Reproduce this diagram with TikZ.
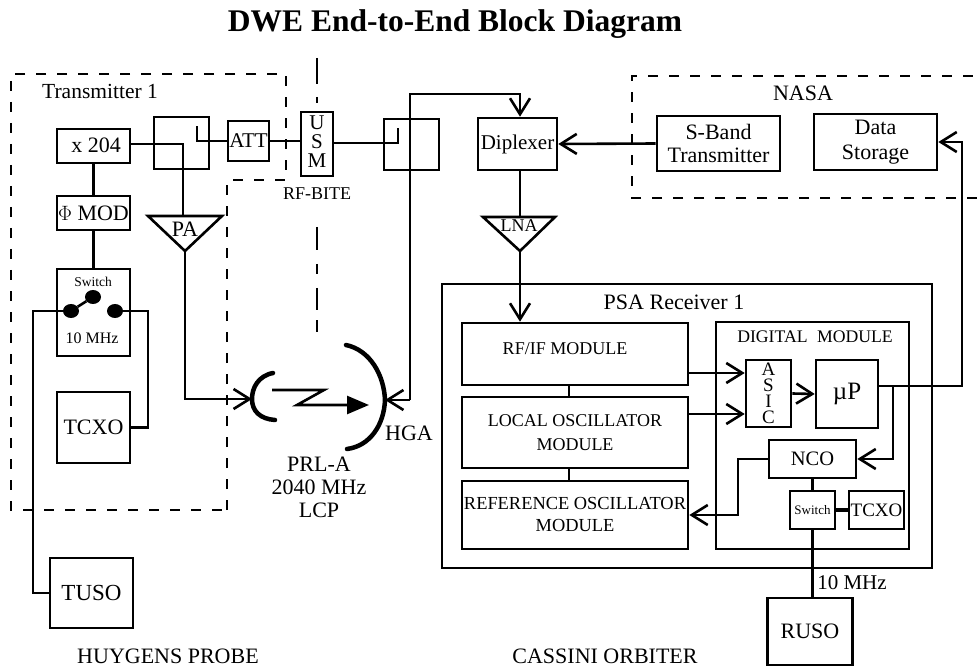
\documentclass[tikz,border=0pt]{standalone}
\usepackage{fontspec}
\setmainfont{Liberation Serif}
\usetikzlibrary{arrows.meta,shapes.geometric}
\newcommand{\fs}[1]{\fontsize{#1}{#1}\selectfont}
\tikzset{
  blockbox/.style={draw, line width=2.6pt, inner sep=0pt, align=center},
  wire/.style={line width=2.6pt},
  fence/.style={line width=2.6pt, dash pattern=on 10pt off 11pt},
  divide/.style={line width=2.6pt, dash pattern=on 26pt off 13pt on 6pt off 20pt},
  contact/.style={ellipse, fill=black, minimum width=16pt, minimum height=14pt, inner sep=0pt},
  dish/.style={line width=4.5pt, line cap=round},
}
\begin{document}
\begin{tikzpicture}[x=1pt, y=-1pt, >={Straight Barb[length=16pt,width=20pt]}]
	\useasboundingbox (0,0) rectangle (977,668);
	\node[font=\bfseries\fs{31.5}] (title) at (455,24) {DWE End-to-End Block Diagram};
	% fences
	\draw[fence] (227,510) -- (227,180) -- (286,180) -- (286,74) -- (11,74) -- (11,510) -- cycle;
	\draw[fence] (977,198) -- (632,198) -- (632,76) -- (977,76);
	% probe side
	\node[font=\fs{21.5}] (txlabel) at (100,91) {Transmitter 1};
	\node[blockbox, minimum width=73, minimum height=34] (xmult) at (93.5,146) {};
	\node[font=\fs{22}] (xlabel) at (96,145) {x 204};
	\node[blockbox, minimum width=73, minimum height=34, font=\fs{22}] (phimod) at (93.5,213) {$\Phi$ MOD};
	\node[blockbox, minimum width=73, minimum height=87] (txswitch) at (93.5,312.5) {};
	\node[font=\fs{13.5}] (swlabel) at (93,282) {Switch};
	\node[font=\fs{16}] (swfreq) at (92,338) {10 MHz};
	\node[contact] (dotl) at (71,311) {};
	\node[contact] (dotm) at (93,297) {};
	\node[contact] (dotr) at (115,311) {};
	\node[blockbox, minimum width=73, minimum height=71, font=\fs{22}] (txtcxo) at (93.5,427.5) {TCXO};
	\node[blockbox, minimum width=83, minimum height=70, font=\fs{23}] (tuso) at (91.5,593) {TUSO};
	\node[blockbox, minimum width=55, minimum height=52] (coupa) at (181.5,143) {};
	\node[blockbox, minimum width=41, minimum height=40, font=\fs{21}] (att) at (248.5,141) {ATT};
	\node[blockbox, minimum width=32, minimum height=64] (usm) at (317,144) {};
	\node[font=\fs{21}, align=center] (usmlabel) at (317,142) {U\\[-2pt]S\\[-2pt]M};
	\node[font=\fs{18}] (bite) at (317,194) {RF-BITE};
	\node[blockbox, minimum width=55, minimum height=51] (coupb) at (411.5,144.5) {};
	\coordinate (patop) at (183,216);
	\coordinate (paapex) at (185,251);
	\draw[wire] (148,216) -- (222,216) -- (paapex) -- cycle;
	\node[font=\fs{22}] (palabel) at (185,229) {PA};
	\draw[divide] (317,58) -- (usm.north);
	\draw[line width=2.6pt, dash pattern=on 23pt off 14pt on 10pt off 14pt on 22pt off 10pt] (317,227) -- (317,332);
	\draw[wire] (xmult) -- (phimod);
	\draw[wire] (phimod) -- (txswitch);
	\draw[wire] (xmult.east |- 0,144) -- (183,144) -- (patop);
	\draw[wire] (att.west) -- (197,141) -- (197,126);
	\draw[wire] (att.east) -- (att.east -| usm.west);
	\draw[wire] (usm.east |- 0,143) -- (398,143) -- (398,128);
	\draw[wire] (dotl) -- (dotm);
	\draw[wire] (dotl) -- (33,311) |- (tuso.west);
	\draw[wire] (dotr) -- (148,311) |- (txtcxo.east);
	% antennas
	\coordinate (feed) at (252,399);
	\coordinate (hga) at (385,400);
	\draw[wire, ->] (paapex) |- (feed);
	\draw[dish] (273,373) .. controls (258,376) and (252,388) .. (feed) .. controls (252,411) and (260,419) .. (275,420);
	\draw[dish] (346,345) .. controls (370,350) and (384,375) .. (hga) .. controls (384,425) and (370,446) .. (347,449);
	\draw[wire, -{Triangle[length=22pt,width=18pt]}] (272,390) -- (324,390) -- (297,405) -- (369,405);
	\node[font=\fs{22}] (hgalabel) at (409,433) {HGA};
	\node[font=\fs{22}, align=center] (prl) at (319,487) {PRL-A\\[1pt]2040 MHz\\[1pt]LCP};
	% orbiter side
	\node[blockbox, minimum width=79, minimum height=52, font=\fs{21}] (diplex) at (517.5,144) {Diplexer};
	\coordinate (lnaapex) at (520,251);
	\draw[wire] (483,217) -- (555,217) -- (lnaapex) -- cycle;
	\node[font=\fs{18}] (lnalabel) at (519,226) {LNA};
	\node[font=\fs{22}] (nasalabel) at (803,93) {NASA};
	\node[blockbox, minimum width=123, minimum height=55, font=\fs{22}] (sband) at (718.5,143.5) {S-Band\\[1pt]Transmitter};
	\node[blockbox, minimum width=123, minimum height=56, font=\fs{22}] (store) at (875.5,142) {Data\\[3pt]Storage};
	\node[blockbox, minimum width=490, minimum height=284] (psa) at (687,426) {};
	\node[font=\fs{22}] (psalabel) at (674,302) {PSA Receiver 1};
	\node[blockbox, minimum width=226, minimum height=62] (rfif) at (575,354) {};
	\node[font=\fs{18}] (rfiflabel) at (565,349) {RF/IF MODULE};
	\node[blockbox, minimum width=226, minimum height=71] (losc) at (575,432.5) {};
	\node[font=\fs{18}, align=center] (losclabel) at (575,433) {LOCAL OSCILLATOR\\[6pt]MODULE};
	\node[blockbox, minimum width=226, minimum height=68] (refosc) at (575,515) {};
	\node[font=\fs{18.4}, align=center] (refosclabel) at (575,514) {REFERENCE OSCILLATOR\\[3.6pt]MODULE};
	\node[blockbox, minimum width=193, minimum height=227] (digital) at (812.5,435.5) {};
	\node[font=\fs{17.7}] (diglabel) at (815,337) {DIGITAL\hspace{5pt} MODULE};
	\node[blockbox, minimum width=45, minimum height=67, font=\fs{19}] (asic) at (768.5,393.5) {A\\[-3pt]S\\[-3pt]I\\[-3pt]C};
	\node[blockbox, minimum width=62, minimum height=68, font=\fs{25}] (micro) at (847,394) {\raisebox{-4pt}{µP}};
	\node[blockbox, minimum width=87, minimum height=38, font=\fs{20.5}] (nco) at (812.5,459) {NCO};
	\node[blockbox, minimum width=45, minimum height=38, font=\fs{13}] (rxswitch) at (812.5,510) {Switch};
	\node[blockbox, minimum width=55, minimum height=38, font=\fs{19}] (rxtcxo) at (876.5,510) {TCXO};
	\node[blockbox, minimum width=85, minimum height=67, font=\fs{22}] (ruso) at (810,631.5) {RUSO};
	\node[font=\fs{21}] (freqlabel) at (852,583) {10 MHz};
	\node[font=\fs{22}] (probelabel) at (168,656) {HUYGENS PROBE};
	\node[font=\fs{22}] (orbiterlabel) at (605,656) {CASSINI ORBITER};
	\coordinate (busturn) at (893,386);
	\coordinate (ncoturn) at (738,459);
	\coordinate (riser) at (410,94);
	\draw[wire, ->] (riser |- hga) -- (hga);
	\draw[wire, ->] (riser |- hga) -- (riser) -| (diplex.north -| lnaapex);
	\draw[wire, ->] (sband.west) -- (diplex.east);
	\draw[wire] (diplex.south -| lnaapex) -- (lnaapex |- 0,217);
	\draw[wire, ->] (lnaapex) -- (lnaapex |- rfif.north);
	\draw[wire] (569,385) -- (569,397);
	\draw[wire] (569,468) -- (569,481);
	\draw[wire, ->] (rfif.east |- 0,373) -- (asic.west |- 0,373);
	\draw[wire, ->] (losc.east |- 0,414) -- (asic.west |- 0,414);
	\draw[wire, ->] (asic.east) -- (micro.west);
	\draw[wire, ->] (micro.east |- busturn) -- (962,386) |- (store.east);
	\draw[wire, ->] (busturn) |- (nco.east);
	\draw[wire, ->] (nco.west) -- (ncoturn) |- (refosc.east);
	\draw[wire] (nco.south) -- (rxswitch.north);
	\draw[line width=4pt] (rxswitch.east) -- (rxtcxo.west);
	\draw[wire] (rxswitch.south) -- (rxswitch.south |- ruso.north);
\end{tikzpicture}
\end{document}
